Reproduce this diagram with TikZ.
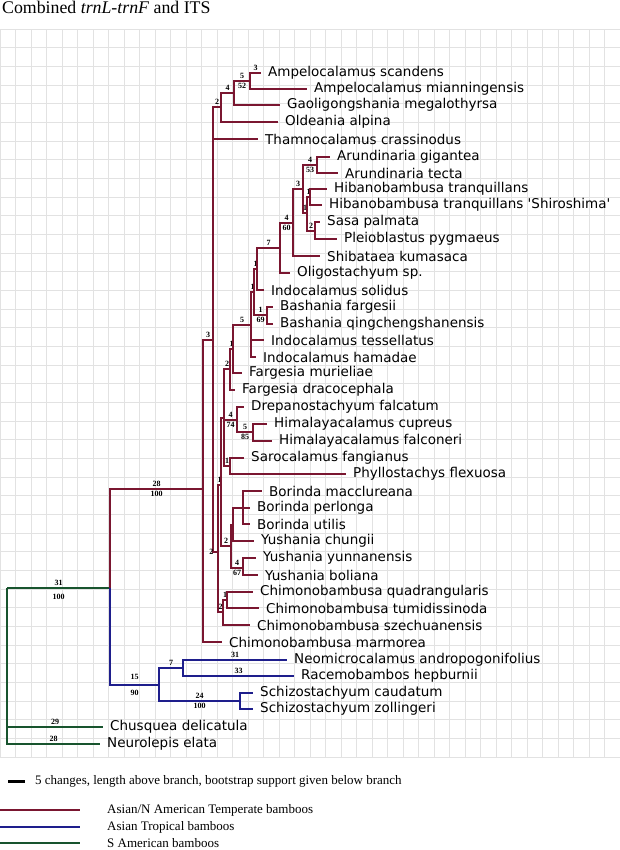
\documentclass[tikz,border=0pt]{standalone}
\usepackage{fontspec}
\setmainfont{Liberation Serif}
\newfontfamily\taxonfont{DejaVu Sans}
\usetikzlibrary{positioning}
\definecolor{temperateRed}{RGB}{122,22,48}
\definecolor{tropicalBlue}{RGB}{30,30,140}
\definecolor{americanGreen}{RGB}{24,84,46}
\definecolor{gridGray}{RGB}{226,226,226}
%% A leaf: its tip and its name.
\newcommand{\taxon}[3]{%%
  \coordinate (#1) at (#2);
  \node[taxonStyle] (#1Name) at (#1) {#3};
}
%% A legend entry.
\newcommand{\legendLine}[4]{%%
  \coordinate (#1A) at (0,#3);
  \coordinate (#1B) at (80,#3);
  \draw[#2,line width=1.2pt] (#1A) -- (#1B);
  \node[legendStyle] (#1Text) at (107,#3) {#4};
}

\begin{document}
\begin{tikzpicture}[%%
  x=1pt,y=-1pt,
  gridStyle/.style={draw=gridGray,line width=0.8pt},%%
  tempStyle/.style={draw=temperateRed,line width=2.2pt},%%
  tropStyle/.style={draw=tropicalBlue,line width=2.2pt},%%
  amerStyle/.style={draw=americanGreen,line width=2.2pt},%%
  lenStyle/.style={font=\bfseries\fontsize{8}{8}\selectfont,inner sep=1pt,text=black},%%
  lenAbove/.style={lenStyle,pos=0.75,above},%%
  lenBelow/.style={lenStyle,pos=0.75,below},%%
  taxonStyle/.style={anchor=west,inner sep=0pt,xshift=7pt,font=\taxonfont\fontsize{13.5}{14}\selectfont},%%
  legendStyle/.style={anchor=west,inner sep=0pt,font=\fontsize{13}{15}\selectfont}
]
\useasboundingbox (0,0) rectangle (620,850);
%%
%% The grid.
\foreach \gx in {0,...,40} \draw[gridStyle] (\gx*15.5,29) -- (\gx*15.5,757);
\foreach \gy in {0,...,39} \draw[gridStyle] (0,29+\gy*18.67) -- (620,29+\gy*18.67);
%%
%% The title.
\node[anchor=north west,inner sep=0pt,font=\fontsize{17.8}{19}\selectfont] (title) at (2,1)
  {Combined \textit{trnL-trnF} and ITS};
%%
%% Internal nodes.
\coordinate (root) at (7,588);
\coordinate (ingroup) at (110,588);
\coordinate (temperate) at (203,489);
\coordinate (tropical) at (159,685);
\coordinate (neoRac) at (183,668);
\coordinate (schizo) at (240,701);
\coordinate (cladeX) at (213,340);
\coordinate (ampGroup) at (221,107);
\coordinate (ampGao) at (234,93);
\coordinate (ampelo) at (250,81);
\coordinate (cladeY) at (218,552);
\coordinate (cladeW) at (221,485);
\coordinate (cladeV) at (224,418);
\coordinate (farg2) at (230,369);
\coordinate (farg1) at (233,349);
\coordinate (indo5) at (251,325);
\coordinate (indoBash) at (254,292);
\coordinate (indoSol) at (257,269);
\coordinate (olig7) at (280,248);
\coordinate (shib4) at (293,223);
\coordinate (arund3) at (303,189);
\coordinate (arund) at (317,165);
\coordinate (hibSasa) at (307,213);
\coordinate (hiban) at (310,197);
\coordinate (sasaPleio) at (315,231);
\coordinate (bash) at (267,315);
\coordinate (drep4) at (237,420);
\coordinate (hima) at (253,432);
\coordinate (saro) at (230,466);
\coordinate (borYush) at (231,546);
\coordinate (borChung) at (233,525);
\coordinate (borinda) at (243,508);
\coordinate (yush) at (243,568);
\coordinate (chimo) at (223,612);
\coordinate (chimo1) at (227,600);
%%
%% The leaves.
\taxon{aScan}{261,73}{Ampelocalamus scandens}
\taxon{aMian}{307,89}{Ampelocalamus mianningensis}
\taxon{gMega}{280,105}{Gaoligongshania megalothyrsa}
\taxon{oAlp}{278,122}{Oldeania alpina}
\taxon{tCras}{258,139}{Thamnocalamus crassinodus}
\taxon{aGig}{330,157}{Arundinaria gigantea}
\taxon{aTec}{338,173}{Arundinaria tecta}
\taxon{hTra}{327,189}{Hibanobambusa tranquillans}
\taxon{hShi}{322,205}{Hibanobambusa tranquillans 'Shiroshima'}
\taxon{sPal}{320,222}{Sasa palmata}
\taxon{pPyg}{337,239}{Pleioblastus pygmaeus}
\taxon{sKum}{320,256}{Shibataea kumasaca}
\taxon{oSp}{290,273}{Oligostachyum sp.}
\taxon{iSol}{264,290}{Indocalamus solidus}
\taxon{bFar}{273,307}{Bashania fargesii}
\taxon{bQin}{273,324}{Bashania qingchengshanensis}
\taxon{iTes}{264,340}{Indocalamus tessellatus}
\taxon{iHam}{256,357}{Indocalamus hamadae}
\taxon{fMur}{242,373}{Fargesia murieliae}
\taxon{fDra}{235,390}{Fargesia dracocephala}
\taxon{dFal}{244,407}{Drepanostachyum falcatum}
\taxon{hCup}{267,424}{Himalayacalamus cupreus}
\taxon{hFal}{272,441}{Himalayacalamus falconeri}
\taxon{sFan}{244,458}{Sarocalamus fangianus}
\taxon{pFle}{346,474}{Phyllostachys flexuosa}
\taxon{bMac}{262,491}{Borinda macclureana}
\taxon{bPer}{250,508}{Borinda perlonga}
\taxon{bUti}{250,524}{Borinda utilis}
\taxon{yChu}{254,541}{Yushania chungii}
\taxon{yYun}{256,558}{Yushania yunnanensis}
\taxon{yBol}{258,575}{Yushania boliana}
\taxon{cQua}{253,592}{Chimonobambusa quadrangularis}
\taxon{cTum}{259,608}{Chimonobambusa tumidissinoda}
\taxon{cSze}{250,625}{Chimonobambusa szechuanensis}
\taxon{cMar}{222,642}{Chimonobambusa marmorea}
\taxon{nAnd}{287,660}{Neomicrocalamus andropogonifolius}
\taxon{rHep}{294,676}{Racemobambos hepburnii}
\taxon{sCau}{253,693}{Schizostachyum caudatum}
\taxon{sZol}{253,709}{Schizostachyum zollingeri}
\taxon{cDel}{103,727}{Chusquea delicatula}
\taxon{nEla}{100,744}{Neurolepis elata}
%%
%% S American branches.
\draw[amerStyle] (root) |- (ingroup) node[lenAbove] {31} node[lenBelow,yshift=-4pt] {100};
\draw[amerStyle] (root) |- (cDel) node[lenAbove] {29};
\draw[amerStyle] (root) |- (nEla) node[lenAbove] {28};
\draw[amerStyle] (ingroup |- temperate) -- (ingroup |- tropical);
%%
%% Asian tropical branches.
\draw[tropStyle] (ingroup) |- (tropical) node[lenAbove,yshift=3pt] {15} node[lenBelow,yshift=-3pt] {90};
\draw[tropStyle] (tropical) |- (neoRac) node[lenAbove] {7};
\draw[tropStyle] (neoRac) |- (nAnd) node[lenAbove] {31};
\draw[tropStyle] (neoRac) |- (rHep) node[lenAbove] {33};
\draw[tropStyle] (tropical) |- (schizo) node[lenAbove] {24} node[lenBelow] {100};
\draw[tropStyle] (schizo) |- (sCau);
\draw[tropStyle] (schizo) |- (sZol);
%%
%% Asian/N American temperate branches.
\draw[tempStyle] (ingroup) |- (temperate) node[lenAbove] {28} node[lenBelow] {100};
\draw[tempStyle] (temperate) |- (cladeX) node[lenAbove] {3};
\draw[tempStyle] (temperate) |- (cMar);
\draw[tempStyle] (cladeX) |- (ampGroup) node[lenAbove] {2};
\draw[tempStyle] (cladeX) |- (tCras);
\draw[tempStyle] (cladeX) |- (cladeY) node[lenBelow,left] {2};
\draw[tempStyle] (ampGroup) |- (ampGao) node[lenAbove] {4};
\draw[tempStyle] (ampGroup) |- (oAlp);
\draw[tempStyle] (ampGao) |- (ampelo) node[lenAbove] {5} node[lenBelow] {52};
\draw[tempStyle] (ampGao) |- (gMega);
\draw[tempStyle] (ampelo) |- (aScan) node[lenAbove] {3};
\draw[tempStyle] (ampelo) |- (aMian);
%%
\draw[tempStyle] (cladeY) |- (cladeW) node[lenAbove] {1};
\draw[tempStyle] (cladeY) |- (chimo) node[lenAbove] {2};
\draw[tempStyle] (cladeW) |- (cladeV);
\draw[tempStyle] (cladeW) |- (borYush) node[lenAbove] {2};
\draw[tempStyle] (cladeV) |- (farg2) node[lenAbove] {2};
\draw[tempStyle] (cladeV) |- (drep4) node[lenAbove] {4} node[lenBelow] {74};
\draw[tempStyle] (cladeV) |- (saro) node[lenAbove] {1};
\draw[tempStyle] (farg2) |- (farg1) node[lenAbove] {1};
\draw[tempStyle] (farg2) |- (fDra);
\draw[tempStyle] (farg1) |- (indo5) node[lenAbove] {5};
\draw[tempStyle] (farg1) |- (fMur);
\draw[tempStyle] (indo5) |- (indoBash) node[lenAbove] {1};
\draw[tempStyle] (indo5) |- (iTes);
\draw[tempStyle] (indo5) |- (iHam);
\draw[tempStyle] (indoBash) |- (indoSol) node[lenAbove] {1};
\draw[tempStyle] (indoBash) |- (bash) node[lenAbove] {1} node[lenBelow] {69};
\draw[tempStyle] (bash) |- (bFar);
\draw[tempStyle] (bash) |- (bQin);
\draw[tempStyle] (indoSol) |- (olig7) node[lenAbove] {7};
\draw[tempStyle] (indoSol) |- (iSol);
\draw[tempStyle] (olig7) |- (shib4) node[lenAbove] {4} node[lenBelow] {60};
\draw[tempStyle] (olig7) |- (oSp);
\draw[tempStyle] (shib4) |- (arund3) node[lenAbove] {3};
\draw[tempStyle] (shib4) |- (sKum);
\draw[tempStyle] (arund3) |- (arund) node[lenAbove] {4} node[lenBelow] {53};
\draw[tempStyle] (arund3) |- (hibSasa) node[lenAbove] {1};
\draw[tempStyle] (arund) |- (aGig);
\draw[tempStyle] (arund) |- (aTec);
\draw[tempStyle] (hibSasa) |- (hiban) node[lenAbove] {1};
\draw[tempStyle] (hibSasa) |- (sasaPleio) node[lenAbove] {2};
\draw[tempStyle] (hiban) |- (hTra);
\draw[tempStyle] (hiban) |- (hShi);
\draw[tempStyle] (sasaPleio) |- (sPal);
\draw[tempStyle] (sasaPleio) |- (pPyg);
\draw[tempStyle] (drep4) |- (dFal);
\draw[tempStyle] (drep4) |- (hima) node[lenAbove] {5} node[lenBelow] {85};
\draw[tempStyle] (hima) |- (hCup);
\draw[tempStyle] (hima) |- (hFal);
\draw[tempStyle] (saro) |- (sFan);
\draw[tempStyle] (saro) |- (pFle);
\draw[tempStyle] (borYush) |- (borChung);
\draw[tempStyle] (borYush) |- (yush) node[lenAbove] {4} node[lenBelow] {67};
\draw[tempStyle] (borChung) |- (borinda);
\draw[tempStyle] (borChung) |- (yChu);
\draw[tempStyle] (borinda) |- (bMac);
\draw[tempStyle] (borinda) |- (bPer);
\draw[tempStyle] (borinda) |- (bUti);
\draw[tempStyle] (yush) |- (yYun);
\draw[tempStyle] (yush) |- (yBol);
\draw[tempStyle] (chimo) |- (chimo1) node[lenAbove] {1};
\draw[tempStyle] (chimo) |- (cSze);
\draw[tempStyle] (chimo1) |- (cQua);
\draw[tempStyle] (chimo1) |- (cTum);
%%
%% The legend.
\coordinate (scaleA) at (8,781);
\coordinate (scaleB) at (25,781);
\draw[line width=3pt] (scaleA) -- (scaleB);
\node[legendStyle] (scaleText) at (35,781)
  {5 changes, length above branch, bootstrap support given below branch};
\legendLine{temp}{temperateRed}{810}{Asian/N American Temperate bamboos}
\legendLine{trop}{tropicalBlue}{827}{Asian Tropical bamboos}
\legendLine{amer}{americanGreen}{843}{S American bamboos}
\end{tikzpicture}
\end{document}
